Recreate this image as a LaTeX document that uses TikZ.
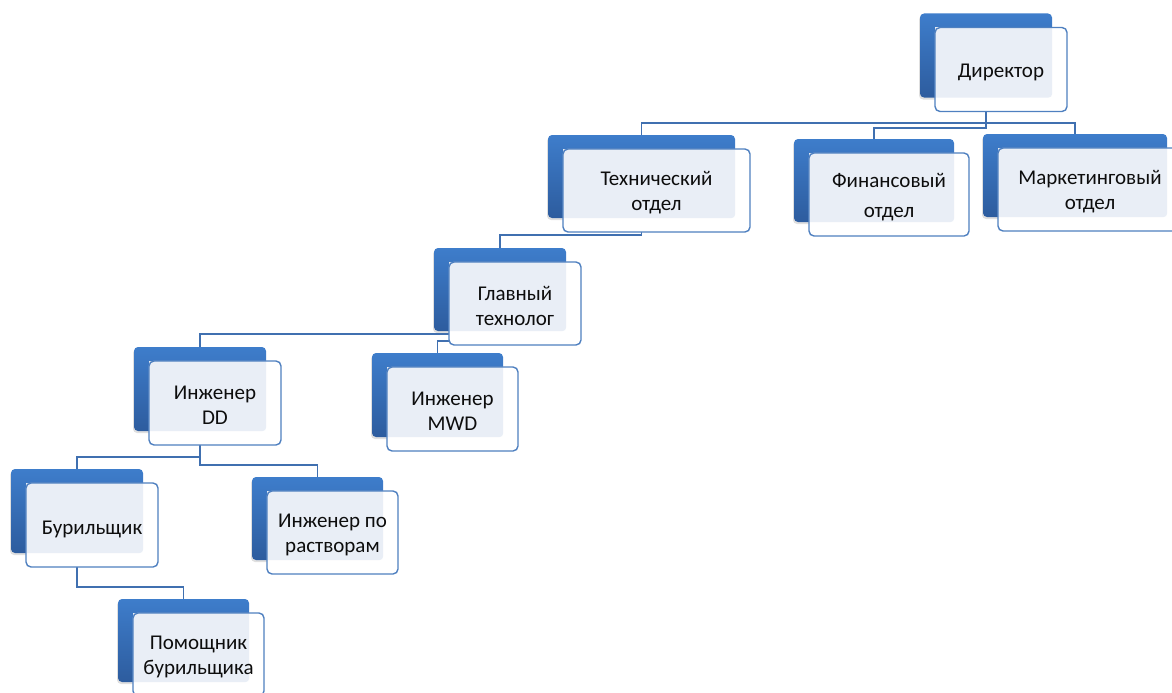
\documentclass[tikz,border=0pt]{standalone}
\usepackage{fontspec}
\setmainfont{Carlito}
\usetikzlibrary{backgrounds,shadows}

\definecolor{cardtop}{HTML}{3E7DCB}
\definecolor{cardbot}{HTML}{2D5C9E}
\definecolor{tint}{HTML}{E9EEF6}
\definecolor{rim}{HTML}{4F80C0}
\definecolor{wire}{HTML}{4070B0}

% blue card with a light label card set off to the lower right
\newcommand{\orgbox}[5]{
  \node[card, minimum width=#3, minimum height=#4] (#1b) at #2 {};
  \fill[white, rounded corners=5pt] ([shift={(15,14)}]#1b.south west) rectangle ([shift={(15,14)}]#1b.north east);
  \begin{scope}
    \clip[rounded corners=4pt] (#1b.south west) rectangle (#1b.north east);
    \fill[tint] ([shift={(15,14)}]#1b.south west) rectangle ([shift={(15,14)}]#1b.north east);
  \end{scope}
  \node[labelcard, minimum width=#3, minimum height=#4] (#1) at ([shift={(15,14)}]#1b) {};
  \node[labeltext] (#1t) at ([yshift=-2.5pt]#1) {#5};
}

\begin{document}
\begin{tikzpicture}[x=1pt, y=-1pt, font=\fontsize{21}{25}\selectfont]
        \tikzstyle{card}=[rounded corners=4pt, top color=cardtop, bottom color=cardbot, inner sep=0pt,
                drop shadow={opacity=0.25, shadow xshift=-1pt, shadow yshift=-2pt}]
        \tikzstyle{labelcard}=[draw=rim, line width=1.4pt, rounded corners=5pt, inner sep=0pt]
        \tikzstyle{labeltext}=[inner sep=0pt, align=center, text=black!95]
        \tikzstyle{link}=[draw=wire, line width=1.8pt]
        \useasboundingbox (0,0) rectangle (1172,693);
        \orgbox{dir}{(986,55.5)}{132pt}{84pt}{Директор}
        \orgbox{tech}{(641.5,176.5)}{187pt}{83pt}{Технический\\отдел}
        \orgbox{fin}{(874,180.5)}{160pt}{83pt}{Финансовый\\[5pt]отдел}
        \orgbox{mkt}{(1075,175.5)}{184pt}{83pt}{Маркетинговый\\отдел}
        \orgbox{glav}{(500,289.5)}{132pt}{83pt}{Главный\\технолог}
        \orgbox{dd}{(200,389)}{132pt}{84pt}{Инженер\\DD}
        \orgbox{mwd}{(437.5,395)}{131pt}{84pt}{Инженер\\MWD}
        \orgbox{bur}{(77,511)}{132pt}{84pt}{\raisebox{0pt}[\height][0pt]{Бурильщик}}
        \orgbox{rast}{(317.5,518.5)}{131pt}{83pt}{Инженер по\\растворам}
        \orgbox{pom}{(183.5,640.5)}{131pt}{83pt}{Помощник\\бурильщика}
        \begin{scope}[on background layer]
        \draw[link] (dirb.south) -- ++(0,25) -| (techb.north);
        \draw[link] (dirb.south) -- ++(0,25) -| (mktb.north);
        \draw[link] (dirb.south) -- ++(0,30) -| (finb.north);
        \draw[link] (techb.south) -- ++(0,17) -| (glavb.north);
        \draw[link] (glavb.south) -- ++(0,3) -| (ddb.north);
        \draw[link] (glavb.south) -- ++(0,10) -| (mwdb.north);
        \draw[link] (ddb.south) -- ++(0,26) -| (burb.north);
        \draw[link] (ddb.south) -- ++(0,34) -| (rastb.north);
        \draw[link] (burb.south) -- ++(0,34) -| (pomb.north);
        \end{scope}
\end{tikzpicture}
\end{document}
